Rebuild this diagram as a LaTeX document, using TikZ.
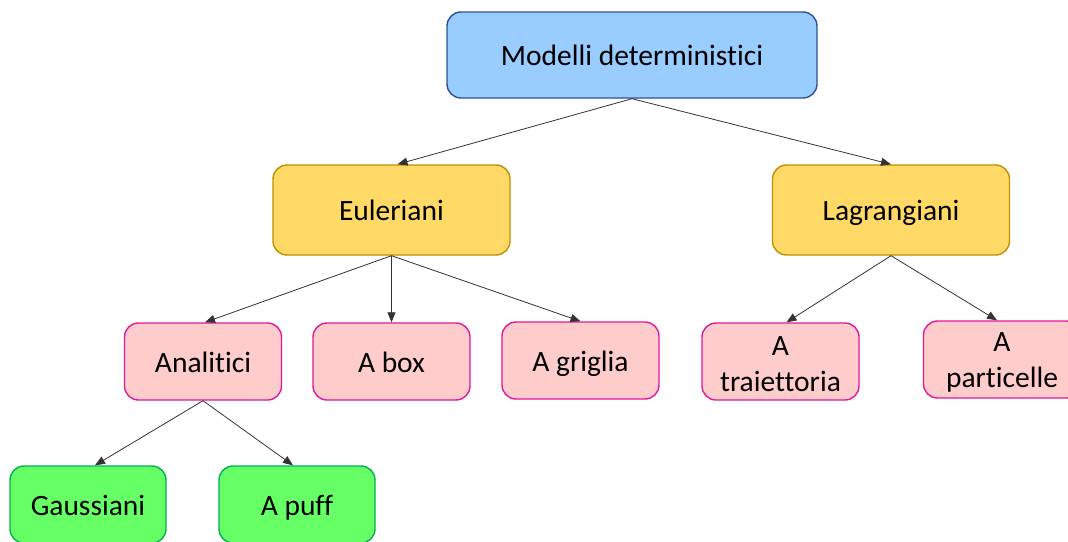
\documentclass[tikz,border=0pt]{standalone}
\usepackage{fontspec}
\setmainfont{Carlito}[Ligatures=NoCommon]
\usetikzlibrary{arrows.meta}
\definecolor{topfill}{HTML}{99CCFF}
\definecolor{topline}{HTML}{2F528F}
\definecolor{midfill}{HTML}{FFD966}
\definecolor{midline}{HTML}{BF9000}
\definecolor{lowfill}{HTML}{FFCCCC}
\definecolor{lowline}{HTML}{E0189B}
\definecolor{leaffill}{HTML}{66FF66}
\definecolor{leafline}{HTML}{00B050}
\begin{document}
\begin{tikzpicture}[x=1pt,y=-1pt,
  box/.style={rounded corners=14pt, line width=1.4pt, align=center, inner sep=0pt,
    font=\fontsize{29.5}{36}\selectfont},
  oneline/.style={text height=21pt, text depth=0pt},
  topbox/.style={box, oneline, fill=topfill, draw=topline, minimum width=370pt, minimum height=86pt},
  midbox/.style={box, oneline, fill=midfill, draw=midline, minimum width=237pt, minimum height=90pt},
  lowbox/.style={box, fill=lowfill, draw=lowline, minimum width=157pt, minimum height=77pt},
  leafbox/.style={box, oneline, fill=leaffill, draw=leafline, minimum width=156pt, minimum height=77pt},
  link/.style={draw=black!80, line width=0.8pt, -{Triangle[length=10pt,width=8pt]}}]
\useasboundingbox (0,0) rectangle (1068,541);
\clip (0,0) rectangle (1068,541);
\fill[white] (0,0) rectangle (1068,541);

% tree nodes
\node[topbox] (top) at (632,55) {Modelli deterministici};
\node[midbox] (euler) at (391.5,210) {Euleriani};
\node[midbox] (lagr) at (891,210) {Lagrangiani};
\node[lowbox, oneline] (anal) at (203,361.5) {Analitici};
\node[lowbox, oneline] (abox) at (391.5,361.5) {A box};
\node[lowbox, oneline] (agrig) at (580.5,360.5) {A griglia};
\node[lowbox] (atraj) at (780.5,361.5) {};
\node[lowbox] (apart) at (1002,359.5) {};
\node[leafbox] (gauss) at (88,504.5) {Gaussiani};
\node[leafbox] (apuff) at (297,504.5) {A puff};

% two-line labels, set a little below the box centres
\node[font=\fontsize{29.5}{36}\selectfont, align=center, inner sep=0pt] (atrajtext)
  at ([yshift=-3pt]atraj.center) {A\\traiettoria};
\node[font=\fontsize{29.5}{36}\selectfont, align=center, inner sep=0pt] (aparttext)
  at ([yshift=-3pt]apart.center) {A\\particelle};

% connectors
\draw[link] (top.south) -- ([xshift=6pt]euler.north);
\draw[link] (top.south) -- (lagr.north);
\draw[link] (euler.south) -- ([xshift=2pt]anal.north);
\draw[link] (euler.south) -- (abox.north);
\draw[link] (euler.south) -- (agrig.north);
\draw[link] (lagr.south) -- ([xshift=6pt]atraj.north);
\draw[link] (lagr.south) -- ([xshift=-5pt]apart.north);
\draw[link] (anal.south) -- ([xshift=7pt]gauss.north);
\draw[link] (anal.south) -- ([xshift=-4pt]apuff.north);
\end{tikzpicture}
\end{document}
